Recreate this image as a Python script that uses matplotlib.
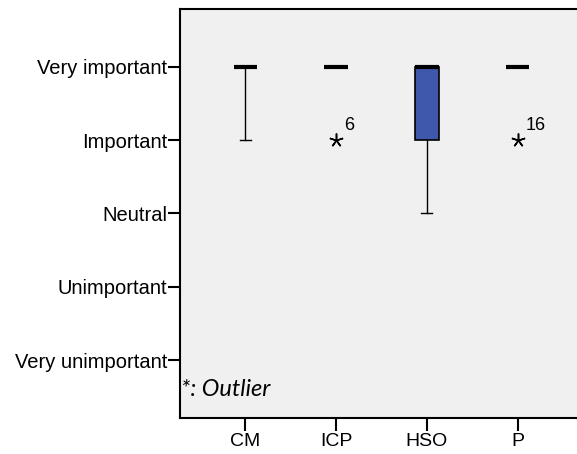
import numpy as np
import matplotlib
matplotlib.use('Agg')
import matplotlib.pyplot as plt

# Rating scale and groups
levels = ['Very unimportant', 'Unimportant', 'Neutral', 'Important', 'Very important']
groups = ['CM', 'ICP', 'HSO', 'P']

# Box statistics per group (1 = Very unimportant ... 5 = Very important)
q1 = [5, 5, 4, 5]
med = [5, 5, 5, 5]
q3 = [5, 5, 5, 5]
whislo = [4, 5, 3, 5]
whishi = [5, 5, 5, 5]

# Outliers: (group index, value, case label)
out_group = [1, 3]
out_value = [4, 4]
out_label = ['6', '16']

box_color = '#3F58AB'

fig = plt.figure(figsize=(5.77, 4.54), dpi=100)
ax = fig.add_axes([180 / 577, 36 / 454, 403 / 577, 409 / 454])
ax.set_facecolor('#F0F0F0')

stats = []
for i, g in enumerate(groups):
    stats.append({'label': g, 'q1': q1[i], 'med': med[i], 'q3': q3[i],
                  'whislo': whislo[i], 'whishi': whishi[i], 'fliers': []})

pos = np.arange(1, len(groups) + 1)
bp = ax.bxp(stats, positions=pos, widths=0.257, patch_artist=True,
            showfliers=False,
            boxprops=dict(facecolor=box_color, edgecolor='black', linewidth=1.2),
            medianprops=dict(color='black', linewidth=3),
            whiskerprops=dict(color='black', linewidth=1.0),
            capprops=dict(color='black', linewidth=1.0),
            capwidths=0.12)

# caps sitting on the median/box edge are hidden under the thick median line
for i in range(len(groups)):
    if whishi[i] == q3[i]:
        bp['caps'][2 * i + 1].set_visible(False)
    if whislo[i] == q1[i]:
        bp['caps'][2 * i].set_visible(False)

# outliers drawn as asterisks with case numbers
for gi, v, lab in zip(out_group, out_value, out_label):
    x = pos[gi]
    ax.plot(x, v, marker=(5, 2, 0), markersize=10, color='black',
            markeredgewidth=1.1, linestyle='none')
    ax.text(x + 0.09, v + 0.08, lab, fontsize=13, family='Liberation Sans',
            ha='left', va='bottom')

ax.set_xlim(0.28, 4.72)
ax.set_ylim(0.215, 5.785)
ax.set_xticks(pos)
ax.set_xticklabels(groups, family='Liberation Sans', fontsize=14)
ax.set_yticks(range(1, 6))
ax.set_yticklabels(levels, family='Liberation Sans', fontsize=14.5)
ax.tick_params(axis='both', length=9, width=1.5, color='black', pad=0)
ax.tick_params(axis='x', pad=2)

for s in ax.spines.values():
    s.set_linewidth(1.5)
    s.set_color('black')

ax.text(0.003, 0.055, '*: Outlier', transform=ax.transAxes, fontsize=17,
        style='italic', family='Lato', ha='left', va='baseline')

fig.savefig('out.png', dpi=100)
